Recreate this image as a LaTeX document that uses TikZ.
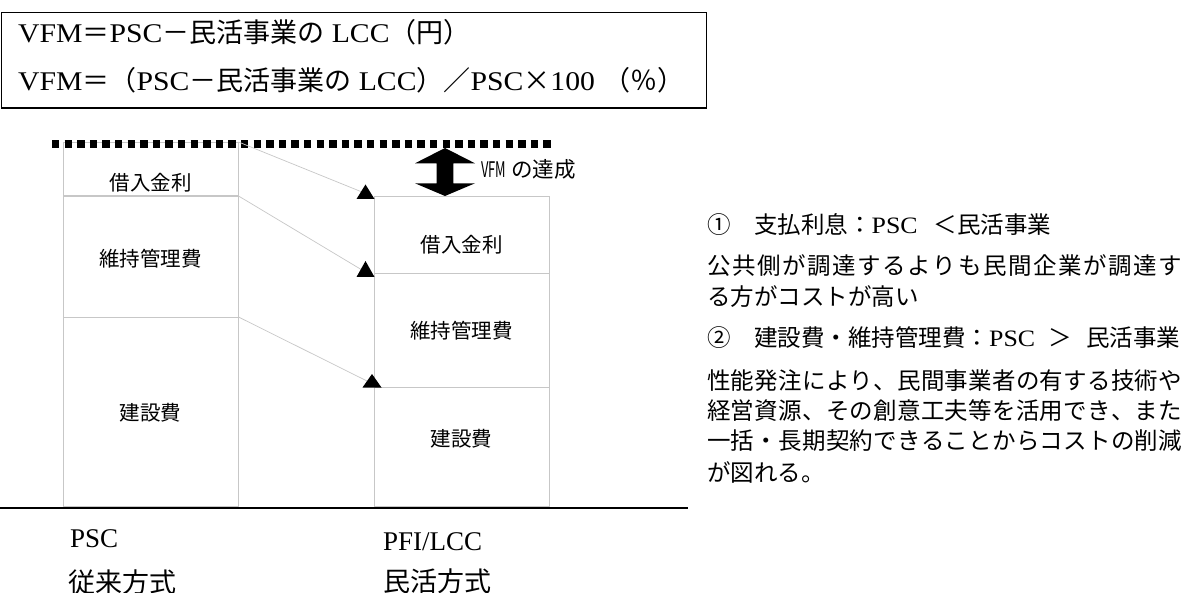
\documentclass[tikz,border=0pt]{standalone}
\usepackage{fontspec}
\usepackage{graphicx}
\setmainfont{Liberation Serif}
\newfontfamily\wserif[FakeStretch=1.1]{Liberation Serif}
\newfontfamily\jp{Noto Sans CJK JP}
\makeatletter
\def\jspread#1{\jspread@a#1\relax}
\def\jspread@a#1#2{#1\ifx\relax#2\else\hskip0pt plus 1fil\expandafter\jspread@a\expandafter#2\fi}
\makeatother
\tikzset{
  cbox/.style={draw=black!22, line width=0.8pt, inner sep=0pt, outer sep=0pt, anchor=north west},
  lab/.style={font=\jp\fontsize{20.5pt}{24pt}\selectfont, inner sep=0pt, anchor=base},
  rtxt/.style={font=\wserif\fontsize{23.5pt}{28pt}\selectfont, inner sep=0pt, anchor=base west},
  ttxt/.style={font=\wserif\fontsize{27pt}{32pt}\selectfont, inner sep=0pt, anchor=base west},
  btxt/.style={font=\fontsize{27pt}{32pt}\selectfont, inner sep=0pt, anchor=base west},
  conn/.style={draw=black!22, line width=0.7pt},
  dots/.style={line width=8.3pt, dash pattern=on 7.3pt off 5.3pt},
  tri/.style={fill=black},
  rule/.style={line width=1.8pt}
}
\begin{document}
\begin{tikzpicture}[x=1pt,y=-1pt]
\useasboundingbox (0,0) rectangle (1185,593);
\fill[white] (0,0) rectangle (1185,593);

% formula box
\node[draw=black, line width=1.8pt, minimum width=705pt, minimum height=95.5pt, inner sep=0pt, outer sep=0pt, anchor=north west] (F) at (1.5,12.5) {};
\node[ttxt] (F1) at (18,43) {VFM{\jp ＝}PSC{\jp －民活事業の} LCC{\jp （円）}};
\node[ttxt] (F2) at (18,91) {VFM{\jp ＝（}PSC{\jp －民活事業の} LCC{\jp ）／}PSC\makebox[27pt]{\jp ×}100\hspace{8pt}{\jp （％）}};

% PSC column
\node[cbox, minimum width=175.5pt, minimum height=53pt] (L1) at (63,142) {};
\node[cbox, minimum width=175.5pt, minimum height=121pt] (L2) at (63,196) {};
\node[cbox, minimum width=175.5pt, minimum height=189pt] (L3) at (63,317) {};
% PFI column
\node[cbox, minimum width=175pt, minimum height=77pt] (R1) at (374,196) {};
\node[cbox, minimum width=175pt, minimum height=114pt] (R2) at (374,273) {};
\node[cbox, minimum width=175pt, minimum height=119pt] (R3) at (374,387) {};

% labels
\node[lab] (l1) at (150.5,191) {借入金利};
\node[lab] (l2) at (150.5,267) {維持管理費};
\node[lab] (l3) at (150.5,420) {建設費};
\node[lab] (r1) at (461.5,253) {借入金利};
\node[lab] (r2) at (461.5,338) {維持管理費};
\node[lab] (r3) at (461.5,446) {建設費};

% dotted top line (PSC level)
\coordinate (d1) at (52,144);
\coordinate (d2) at (551,144);
\draw[dots] (d1) -- (d2);

% connectors
\coordinate (e1) at (362,192);
\coordinate (e2) at (362,270);
\coordinate (e3) at (369,382);
\draw[conn] (L1.north east) -- (e1);
\draw[conn] (L2.north east) -- (e2);
\draw[conn] (L3.north east) -- (e3);
\coordinate (t1) at (365.5,199);
\coordinate (t2) at (365.5,277);
\coordinate (t3) at (372,387.5);
\fill[tri] (t1) ++(-9,0) -- ++(18,0) -- ++(-9,-14.5) -- cycle;
\fill[tri] (t2) ++(-9,0) -- ++(18,0) -- ++(-9,-16) -- cycle;
\fill[tri] (t3) ++(-9.5,0) -- ++(19,0) -- ++(-9.5,-13.5) -- cycle;

% VFM double arrow
\fill (445,148) -- (475,163.3) -- (453.3,163.3) -- (453.3,183.3) -- (475,183.3) -- (445,196) -- (415,183.3) -- (436.7,183.3) -- (436.7,163.3) -- (415,163.3) -- cycle;
\node[font=\jp\fontsize{21.5pt}{25pt}\selectfont, inner sep=0pt, anchor=base west] (vfm) at (481,178) {\scalebox{0.6}[1]{VFM} の達成};

% base line
\coordinate (b1) at (0,508.3);
\coordinate (b2) at (688,508.3);
\draw[rule] (b1) -- (b2);

% bottom labels
\node[btxt] (n1) at (70,547) {PSC};
\node[btxt] (n2) at (68,592) {\jp 従来方式};
\node[btxt] (n3) at (383,550) {PFI/LCC};
\node[btxt] (n4) at (383,591) {\jp 民活方式};

% explanation text
\node[rtxt] (p1) at (707,234) {{\jp ①　支払利息：}PSC\hspace{16pt}{\jp ＜民活事業}};
\node[rtxt] (p2) at (707,275) {\makebox[475pt][s]{\jp\jspread{公共側が調達するよりも民間企業が調達す}}};
\node[rtxt] (p3) at (707,306) {\jp る方がコストが高い};
\node[rtxt] (p4) at (707,346) {\makebox[473pt][l]{{\jp ②　建設費・維持管理費：}PSC\hfill{\jp ＞}\hfill{\jp 民活事業}}};
\node[rtxt] (p5) at (707,389) {\makebox[475pt][s]{\jp\jspread{性能発注により、民間事業者の有する技術や}}};
\node[rtxt] (p6) at (707,419) {\makebox[475pt][s]{\jp\jspread{経営資源、その創意工夫等を活用でき、また}}};
\node[rtxt] (p7) at (707,449) {\makebox[475pt][s]{\jp\jspread{一括・長期契約できることからコストの削減}}};
\node[rtxt] (p8) at (707,481) {\jp が図れる。};
\end{tikzpicture}
\end{document}
